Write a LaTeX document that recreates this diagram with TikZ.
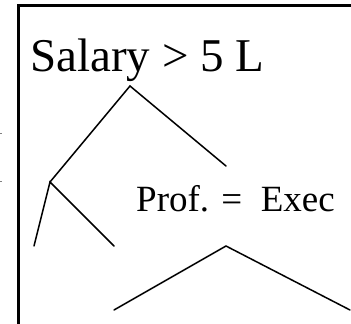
\documentclass[tikz,border=0pt]{standalone}
\usepackage{fontspec}
\setmainfont{Liberation Serif}
\begin{document}
\begin{tikzpicture}[x=1pt,y=1pt,
  branch/.style={line width=1.5pt,line cap=round},
  frame/.style={line width=2.8pt},
  lbl/.style={inner sep=0pt,anchor=base west}]
\useasboundingbox (0,0) rectangle (351,324);
% frame
\coordinate (fb) at (18.5,0);
\coordinate (ft) at (18.5,318.5);
\coordinate (fr) at (351,318.5);
\draw[frame] (fb) -- (ft) -- (fr);
% small edge marks
\fill[gray] (0,189.5) rectangle (1.5,191);
\fill[gray] (0,141.5) rectangle (1.5,143);
% labels
\node[lbl,font=\fontsize{47}{50}\selectfont] (root) at (30,252) {Salary > 5 L};
\node[lbl,font=\fontsize{37}{40}\selectfont] (prof) at (136,112) {Prof. =\ \ Exec};
% tree
\coordinate (a) at (130,238);
\coordinate (b) at (50,142);
\coordinate (c) at (226,158);
\coordinate (b1) at (34,78);
\coordinate (b2) at (114,78);
\coordinate (d) at (226,78);
\coordinate (d1) at (114,14);
\coordinate (d2) at (350,14);
\draw[branch] (b) -- (a) -- (c);
\draw[branch] (b1) -- (b) -- (b2);
\draw[branch] (d1) -- (d) -- (d2);
\end{tikzpicture}
\end{document}
